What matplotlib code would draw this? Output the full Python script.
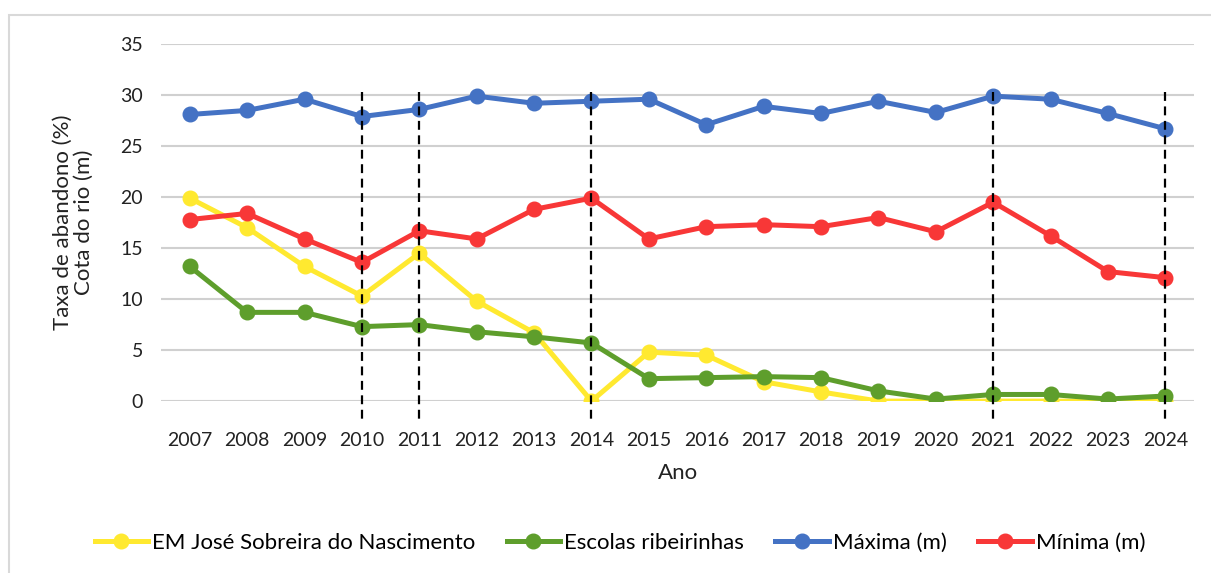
import matplotlib
matplotlib.use("Agg")
import matplotlib.pyplot as plt
from matplotlib.lines import Line2D
from matplotlib.patches import Rectangle

years = list(range(2007, 2025))
em_jose = [19.9, 17.0, 13.2, 10.3, 14.5, 9.8, 6.7, 0.0, 4.8, 4.5, 1.9, 0.9, 0.0, 0.0, 0.0, 0.0, 0.0, 0.0]
escolas = [13.2, 8.7, 8.7, 7.3, 7.5, 6.8, 6.3, 5.7, 2.2, 2.3, 2.4, 2.3, 1.0, 0.2, 0.65, 0.65, 0.2, 0.5]
maxima = [28.1, 28.5, 29.6, 27.9, 28.6, 29.9, 29.2, 29.4, 29.6, 27.1, 28.9, 28.2, 29.4, 28.3, 29.9, 29.6, 28.2, 26.7]
minima = [17.8, 18.4, 15.9, 13.6, 16.7, 15.9, 18.8, 19.9, 15.9, 17.1, 17.3, 17.1, 18.0, 16.6, 19.5, 16.2, 12.7, 12.1]
marked_years = [2010, 2011, 2014, 2021, 2024]
yticks = [0, 5, 10, 15, 20, 25, 30, 35]

plt.rcParams['font.family'] = ['Lato', 'DejaVu Sans']
FS = 14
FL = 16

fig = plt.figure(figsize=(12.11, 5.73), dpi=100)
ax = fig.add_axes([0.133, 0.300, 0.853, 0.623])

series = [
    (em_jose, '#FFE930', 'EM José Sobreira do Nascimento'),
    (escolas, '#5E9E2C', 'Escolas ribeirinhas'),
    (maxima, '#4472C4', 'Máxima (m)'),
    (minima, '#F83737', 'Mínima (m)'),
]
for vals, col, lab in series:
    ax.plot(years, vals, color=col, lw=3.6, marker='o', ms=10.5, label=lab, zorder=3)

for yr in marked_years:
    ax.plot([yr, yr], [30.3, -1.9], color='black', lw=1.6, ls=(0, (4, 2.5)),
            zorder=5, clip_on=False)

ax.set_xlim(2006.5, 2024.5)
ax.set_ylim(0, 35)
ax.set_yticks(yticks)
ax.set_xticks(years)
ax.set_xticklabels([str(y) for y in years], fontsize=FS, color='#222222')
ax.set_yticklabels([str(v) for v in yticks], fontsize=FS, color='#222222')
ax.tick_params(length=0)
ax.tick_params(axis='y', pad=13)
ax.tick_params(axis='x', pad=22)
ax.grid(axis='y', color='#D0D0D0', lw=1.5, zorder=0)
ax.set_axisbelow(True)
for s in ax.spines.values():
    s.set_visible(False)

ax.set_xlabel('Ano', fontsize=FL, color='#222222', labelpad=10)
ax.set_ylabel('Taxa de abandono (%)\nCota do rio (m)', fontsize=FL, color='#222222',
              labelpad=19, linespacing=1.05)

handles = [Line2D([0], [0], color=c, lw=3.6, marker='o', ms=10.5) for _, c, _ in series]
labels = [l for _, _, l in series]
fig.legend(handles, labels, loc='center', bbox_to_anchor=(0.512, 0.052), ncol=4,
           frameon=False, fontsize=FL, handlelength=2.4, handletextpad=0.2,
           columnspacing=1.4)

fig.patches.append(Rectangle((9 / 1211, -0.1), 1.2, 1 - 15 / 573 + 0.1,
                             transform=fig.transFigure, fill=False,
                             edgecolor='#D9D9D9', lw=1.5))

fig.savefig('out.png', dpi=100)
